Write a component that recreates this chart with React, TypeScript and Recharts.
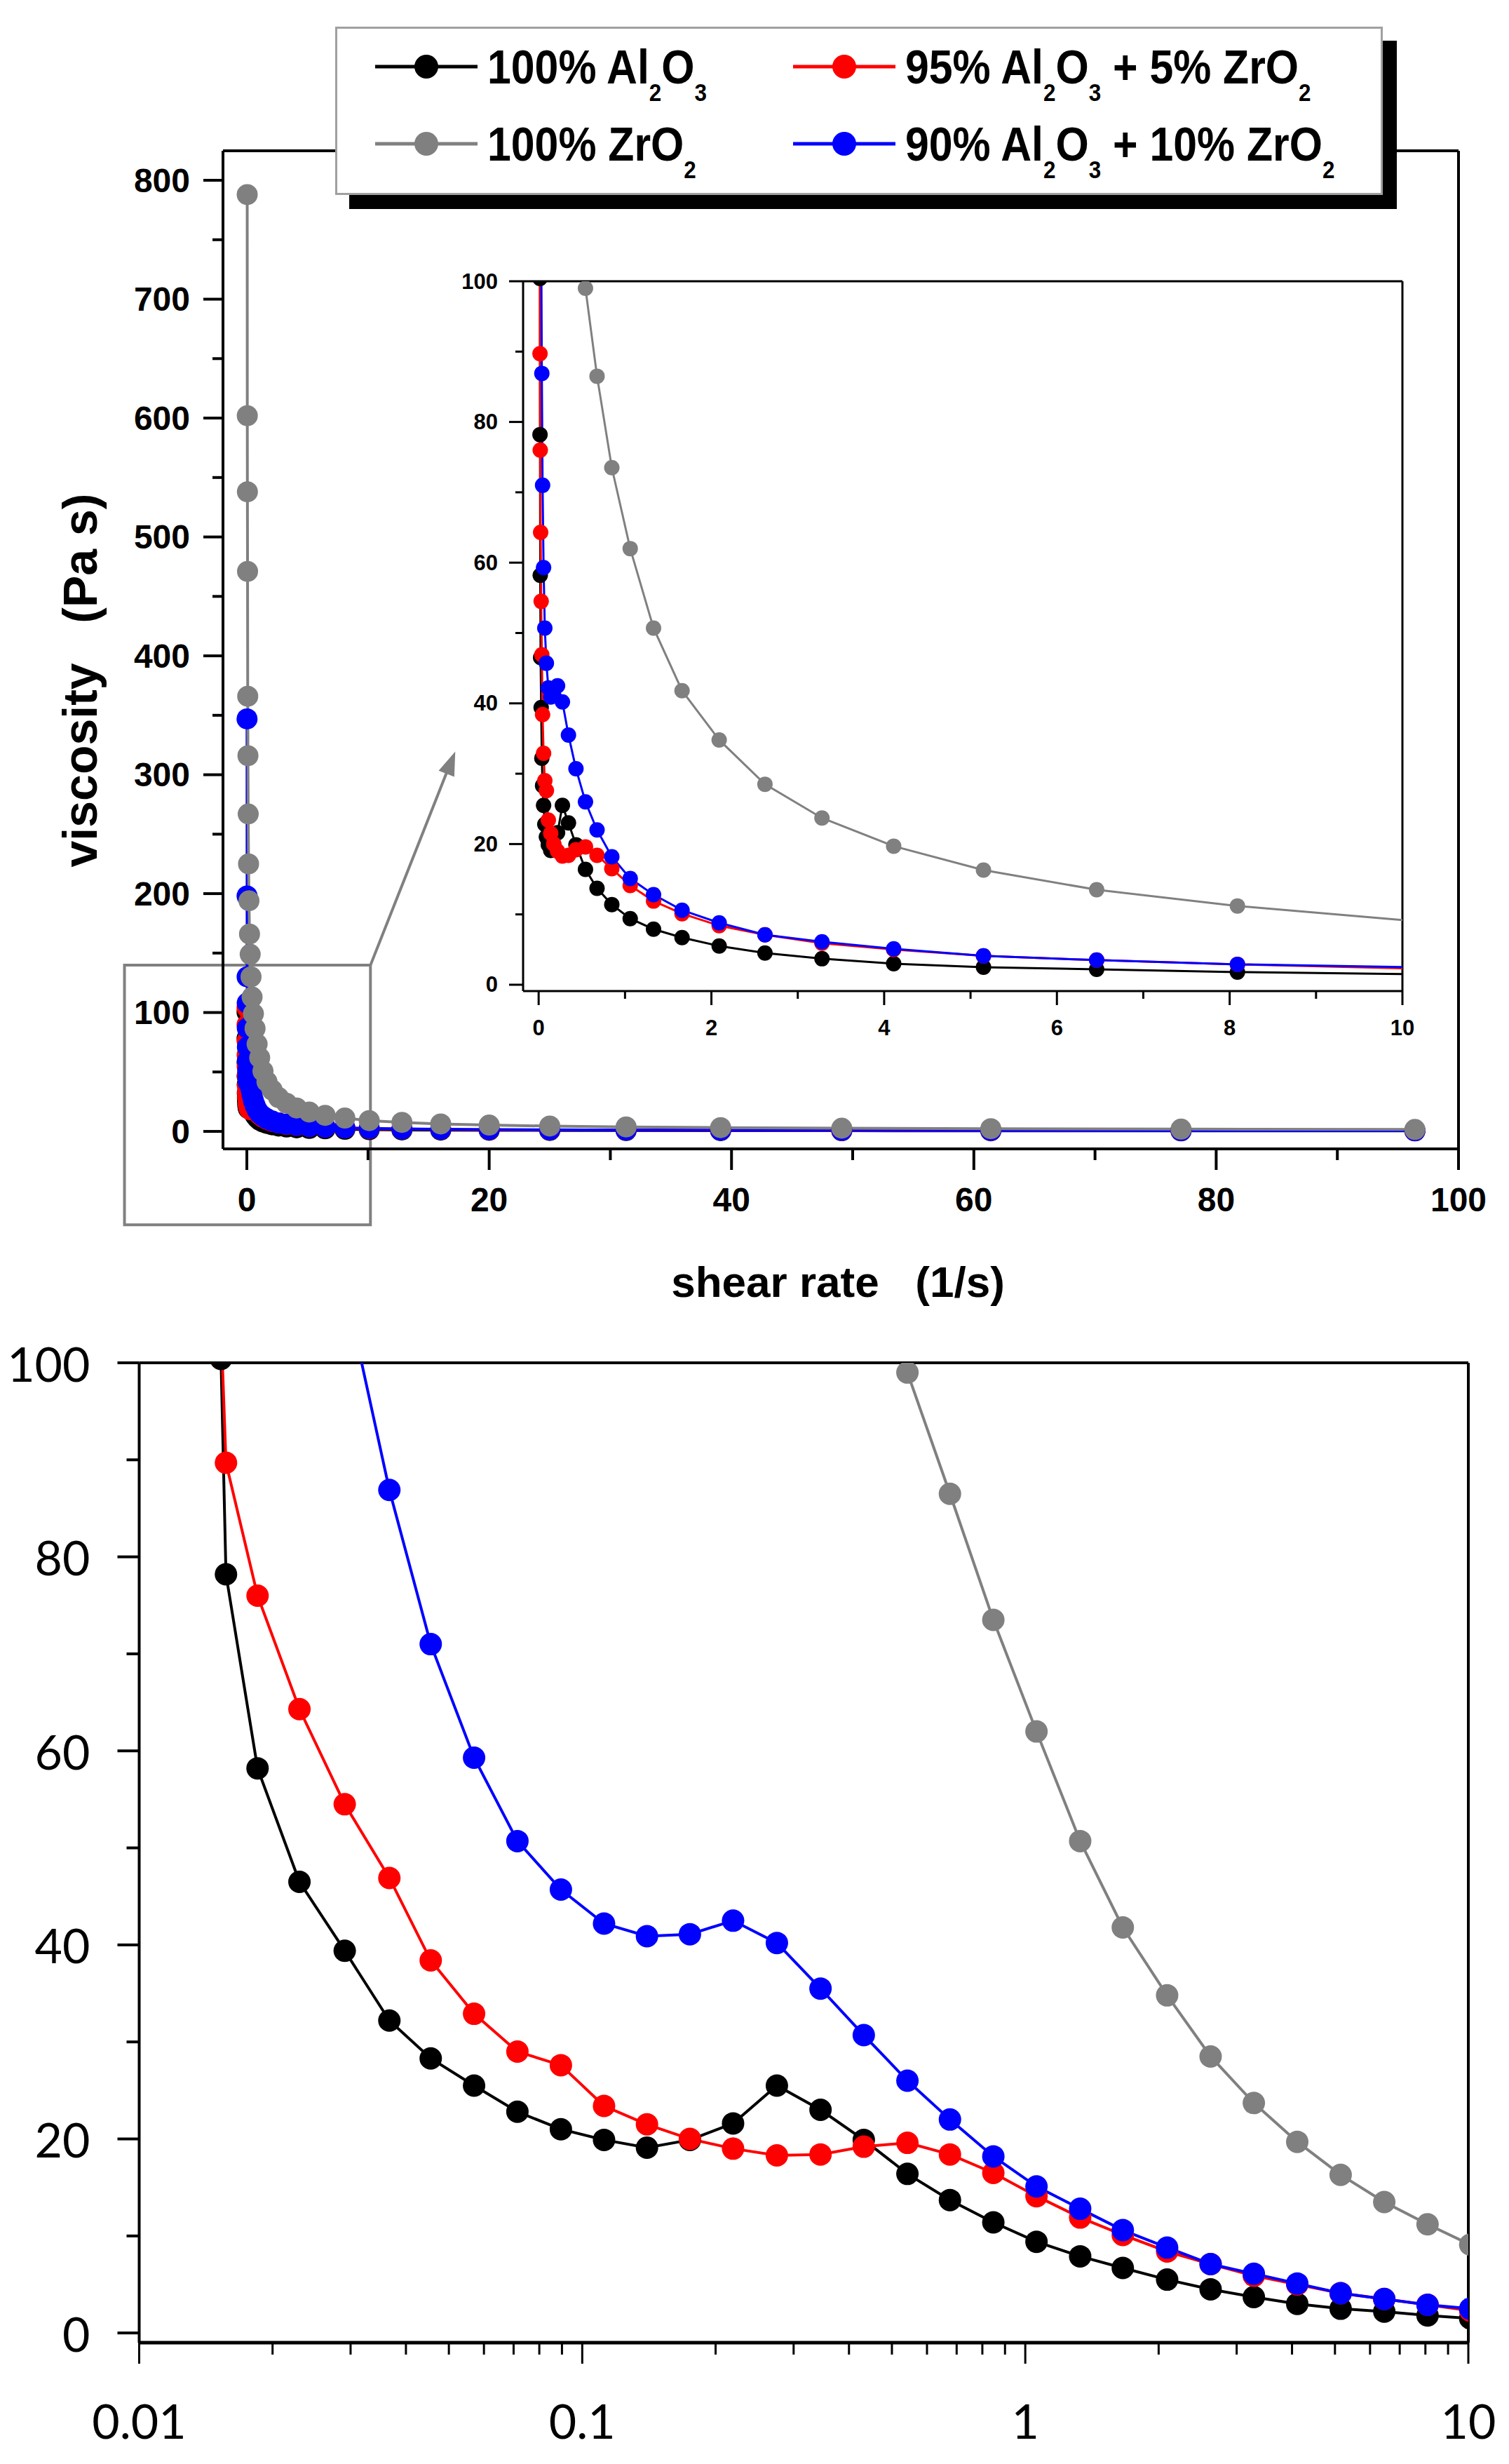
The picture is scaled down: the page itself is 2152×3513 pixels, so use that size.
import React from 'react';
import { LineChart, Line, XAxis, YAxis, ReferenceLine, ReferenceArea, ReferenceDot } from 'recharts';

// shear rate (1/s), same grid for all four slurries
const shearRate = [
  0.0153, 0.0157, 0.0185, 0.023, 0.0291, 0.0367, 0.0455, 0.057, 0.0714, 0.0895,
  0.112, 0.14, 0.175, 0.219, 0.275, 0.345, 0.432, 0.542, 0.676, 0.847,
  1.06, 1.33, 1.66, 2.09, 2.62, 3.28, 4.11, 5.15, 6.46, 8.09,
  10.1, 12.8, 16.0, 20.0, 25.0, 31.3, 39.1, 49.1, 61.4, 77.1, 96.4,
];

// viscosity (Pa s)
const al2o3 = [
  100.4, 78.2, 58.2, 46.5, 39.4, 32.2, 28.3, 25.5, 22.8, 21.0,
  19.9, 19.1, 19.9, 21.6, 25.5, 23.0, 19.9, 16.4, 13.7, 11.4,
  9.4, 7.9, 6.7, 5.5, 4.5, 3.7, 3.0, 2.5, 2.2, 1.8,
  1.5, 1.3, 1.1, 0.95, 0.85, 0.75, 0.65, 0.58, 0.52, 0.47, 0.42,
];
const al95zr5 = [
  104, 89.7, 76.0, 64.3, 54.5, 46.9, 38.4, 32.9, 29.0, 27.6,
  23.4, 21.5, 20.0, 19.0, 18.3, 18.4, 19.2, 19.6, 18.4, 16.5,
  14.1, 11.9, 10.1, 8.4, 7.1, 5.9, 5.0, 4.1, 3.5, 2.9,
  2.3, 2.0, 1.7, 1.45, 1.25, 1.1, 0.95, 0.85, 0.75, 0.68, 0.6,
];
const al90zr10 = [
  null, 347, 198, 130, 108, 86.9, 71.0, 59.3, 50.7, 45.7,
  42.2, 40.9, 41.1, 42.5, 40.2, 35.5, 30.7, 26.0, 22.0, 18.2,
  15.1, 12.8, 10.6, 8.8, 7.1, 6.1, 5.1, 4.1, 3.5, 2.9,
  2.5, 2.1, 1.8, 1.55, 1.35, 1.15, 1.0, 0.9, 0.8, 0.7, 0.62,
];
const zro2 = [
  null, null, null, null, 788, 602, 538, 471, 366, 316,
  267, 225, 194, 166, 149, 130, 113, 99, 86.5, 73.5,
  62, 50.7, 41.8, 34.8, 28.5, 23.7, 19.7, 16.3, 13.5, 11.2,
  9.1, 7.6, 6.3, 5.3, 4.5, 3.8, 3.2, 2.7, 2.3, 1.9, 1.6,
];

const series = [
  { key: 'al2o3', color: '#000000' },
  { key: 'al95zr5', color: '#ff0000' },
  { key: 'al90zr10', color: '#0000ff' },
  { key: 'zro2', color: '#808080' },
];

const rows = shearRate.map((x, i) => ({
  x,
  al2o3: al2o3[i],
  al95zr5: al95zr5[i],
  al90zr10: al90zr10[i],
  zro2: zro2[i],
}));

// ticks
const mainYTicks = [0, 50, 100, 150, 200, 250, 300, 350, 400, 450, 500, 550, 600, 650, 700, 750, 800];
const mainYMajor = [0, 100, 200, 300, 400, 500, 600, 700, 800];
const mainXTicks = [0, 10, 20, 30, 40, 50, 60, 70, 80, 90, 100];
const mainXMajor = [0, 20, 40, 60, 80, 100];
const insetYTicks = [0, 10, 20, 30, 40, 50, 60, 70, 80, 90, 100];
const insetYMajor = [0, 20, 40, 60, 80, 100];
const insetXTicks = [0, 1, 2, 3, 4, 5, 6, 7, 8, 9, 10];
const insetXMajor = [0, 2, 4, 6, 8, 10];
const logXTicks = [
  0.01, 0.02, 0.03, 0.04, 0.05, 0.06, 0.07, 0.08, 0.09,
  0.1, 0.2, 0.3, 0.4, 0.5, 0.6, 0.7, 0.8, 0.9,
  1, 2, 3, 4, 5, 6, 7, 8, 9, 10,
];
const logXMajor = [0.01, 0.1, 1, 10];
const logYTicks = [0, 10, 20, 30, 40, 50, 60, 70, 80, 90, 100];
const logYMajor = [0, 20, 40, 60, 80, 100];

const boldFont = { fontFamily: "'Liberation Sans', Arial, sans-serif", fontWeight: 700 };
const plainFont = { fontFamily: 'Lato, sans-serif', fontWeight: 400 };

function xTick(majors, majorLen, minorLen, sw, labelDy, fontSize, font) {
  return (p) => {
    const { x, y, payload } = p;
    const major = majors.includes(payload.value);
    return (
      <g>
        <line x1={x} x2={x} y1={y} y2={y + (major ? majorLen : minorLen)} stroke="#000" strokeWidth={sw} />
        {major && (
          <text x={x} y={y + labelDy} textAnchor="middle" dominantBaseline="central" fill="#000"
            fontSize={fontSize} fontFamily={font.fontFamily} fontWeight={font.fontWeight}>
            {String(payload.value)}
          </text>
        )}
      </g>
    );
  };
}

function yTick(majors, majorLen, minorLen, sw, labelDx, fontSize, font) {
  return (p) => {
    const { x, y, payload } = p;
    const major = majors.includes(payload.value);
    return (
      <g>
        <line x1={x - (major ? majorLen : minorLen)} x2={x} y1={y} y2={y} stroke="#000" strokeWidth={sw} />
        {major && (
          <text x={x - labelDx} y={y} textAnchor="end" dominantBaseline="central" fill="#000"
            fontSize={fontSize} fontFamily={font.fontFamily} fontWeight={font.fontWeight}>
            {String(payload.value)}
          </text>
        )}
      </g>
    );
  };
}

function renderLines(strokeWidth, r) {
  return series.map((s) => (
    <Line
      key={s.key}
      type="linear"
      dataKey={s.key}
      stroke={s.color}
      strokeWidth={strokeWidth}
      dot={{ r, fill: s.color, stroke: s.color, strokeWidth: 0 }}
      activeDot={false}
      isAnimationActive={false}
      connectNulls={false}
    />
  ));
}

const ArrowHead = (p) => {
  const { cx, cy } = p;
  const ux = 0.369, uy = -0.9295;
  const bx = cx - 34 * ux, by = cy - 34 * uy;
  const nx = 0.9295, ny = 0.369;
  const pts = `${cx},${cy} ${bx + 12 * nx},${by + 12 * ny} ${bx - 12 * nx},${by - 12 * ny}`;
  return <polygon points={pts} fill="#808080" />;
};

function MainChart() {
  const xDom = [-1.97, 100];
  const yDom = [-14.7, 824.8];
  return (
    <div style={{ position: 'absolute', left: 0, top: 0 }}>
      <LineChart width={2152} height={1780} data={rows} margin={{ left: 218, top: 215, right: 72, bottom: 42 }}>
        <XAxis type="number" dataKey="x" domain={xDom} allowDataOverflow ticks={mainXTicks} interval={0}
          height={100} tickSize={0} tickMargin={0} axisLine={{ stroke: '#000', strokeWidth: 4 }}
          tickLine={false} tick={xTick(mainXMajor, 30, 16, 4, 72, 48, boldFont)} />
        <YAxis type="number" domain={yDom} allowDataOverflow ticks={mainYTicks} interval={0}
          width={100} tickSize={0} tickMargin={0} axisLine={{ stroke: '#000', strokeWidth: 4 }}
          tickLine={false} tick={yTick(mainYMajor, 28, 15, 4, 47, 48, boldFont)} />
        <ReferenceLine y={yDom[1]} stroke="#000" strokeWidth={4} ifOverflow="visible" />
        <ReferenceLine x={xDom[1]} stroke="#000" strokeWidth={4} ifOverflow="visible" />
        {renderLines(4, 15)}
        <ReferenceArea x1={-10.1} x2={10.2} y1={-78.5} y2={139.8} fill="none" fillOpacity={0}
          stroke="#808080" strokeWidth={4} ifOverflow="visible" />
        <ReferenceLine segment={[{ x: 10.2, y: 139.8 }, { x: 17.0, y: 315 }]} stroke="#808080"
          strokeWidth={4} ifOverflow="visible" />
        <ReferenceDot x={17.2} y={319.5} r={1} ifOverflow="visible" shape={ArrowHead} />
      </LineChart>
    </div>
  );
}

function InsetChart() {
  const xDom = [-0.18, 10];
  const yDom = [-0.9, 100];
  return (
    <div style={{ position: 'absolute', left: 600, top: 300 }}>
      <LineChart width={1500} height={1250} data={rows} margin={{ left: 46, top: 101, right: 100, bottom: 37 }}>
        <XAxis type="number" dataKey="x" domain={xDom} allowDataOverflow ticks={insetXTicks} interval={0}
          height={100} tickSize={0} tickMargin={0} axisLine={{ stroke: '#000', strokeWidth: 3 }}
          tickLine={false} tick={xTick(insetXMajor, 20, 11, 3, 52, 31, boldFont)} />
        <YAxis type="number" domain={yDom} allowDataOverflow ticks={insetYTicks} interval={0}
          width={100} tickSize={0} tickMargin={0} axisLine={{ stroke: '#000', strokeWidth: 3 }}
          tickLine={false} tick={yTick(insetYMajor, 20, 11, 3, 36, 31, boldFont)} />
        <ReferenceLine y={yDom[1]} stroke="#000" strokeWidth={3} ifOverflow="visible" />
        <ReferenceLine x={xDom[1]} stroke="#000" strokeWidth={3} ifOverflow="visible" />
        {renderLines(3, 11)}
      </LineChart>
    </div>
  );
}

function LogChart() {
  const xDom = [0.01, 10];
  const yDom = [-1.0, 100];
  return (
    <div style={{ position: 'absolute', left: 0, top: 1880 }}>
      <LineChart width={2152} height={1633} data={rows} margin={{ left: 98.5, top: 63, right: 58, bottom: 73 }}>
        <XAxis type="number" dataKey="x" scale="log" domain={xDom} allowDataOverflow ticks={logXTicks} interval={0}
          height={100} tickSize={0} tickMargin={0} axisLine={{ stroke: '#000', strokeWidth: 5 }}
          tickLine={false} tick={xTick(logXMajor, 30, 17, 3, 110, 68, plainFont)} />
        <YAxis type="number" domain={yDom} allowDataOverflow ticks={logYTicks} interval={0}
          width={100} tickSize={0} tickMargin={0} axisLine={{ stroke: '#000', strokeWidth: 4 }}
          tickLine={false} tick={yTick(logYMajor, 31, 18, 4, 70, 68, plainFont)} />
        <ReferenceLine y={yDom[1]} stroke="#000" strokeWidth={4} ifOverflow="visible" />
        <ReferenceLine x={xDom[1]} stroke="#000" strokeWidth={4} ifOverflow="visible" />
        {renderLines(4, 16)}
      </LineChart>
    </div>
  );
}

const subStyle = { fontSize: 32, position: 'relative', top: 22, lineHeight: 0 };

function Formula({ parts }) {
  return (
    <>
      {parts.map((p, i) =>
        p.sub ? <span key={i} style={subStyle}>{p.t}</span> : <span key={i}>{p.t}</span>
      )}
    </>
  );
}

const legendItems = [
  { color: '#000000', left: 535, top: 95, parts: [{ t: '100% Al' }, { t: '2', sub: true }, { t: 'O' }, { t: '3', sub: true }] },
  { color: '#ff0000', left: 1131, top: 95, parts: [{ t: '95% Al' }, { t: '2', sub: true }, { t: 'O' }, { t: '3', sub: true }, { t: ' + 5% ZrO' }, { t: '2', sub: true }] },
  { color: '#808080', left: 535, top: 205, parts: [{ t: '100% ZrO' }, { t: '2', sub: true }] },
  { color: '#0000ff', left: 1131, top: 205, parts: [{ t: '90% Al' }, { t: '2', sub: true }, { t: 'O' }, { t: '3', sub: true }, { t: ' + 10% ZrO' }, { t: '2', sub: true }] },
];

function Legend() {
  return (
    <>
      <div style={{ position: 'absolute', left: 478, top: 38, width: 1494, height: 240, background: '#fff',
        border: '3px solid #a0a0a0', boxSizing: 'border-box', boxShadow: '20px 20px 0 #000' }} />
      {legendItems.map((it, i) => (
        <React.Fragment key={i}>
          <svg style={{ position: 'absolute', left: it.left, top: it.top - 20 }} width={146} height={40}>
            <line x1={0} x2={146} y1={20} y2={20} stroke={it.color} strokeWidth={5} />
            <circle cx={73} cy={20} r={17} fill={it.color} />
          </svg>
          <div style={{ position: 'absolute', left: it.left + 160, top: it.top - 28, fontSize: 62, lineHeight: '62px',
            whiteSpace: 'pre', color: '#000', transform: 'scale(0.98, 1.12)', transformOrigin: 'left 52px', ...boldFont }}>
            <Formula parts={it.parts} />
          </div>
        </React.Fragment>
      ))}
    </>
  );
}

export default function App() {
  return (
    <div style={{ position: 'absolute', left: 0, top: 0, width: 2152, height: 3513, background: '#fff', overflow: 'hidden' }}>
      <MainChart />
      <InsetChart />
      <Legend />
      <div style={{ position: 'absolute', left: 114, top: 970, transform: 'translate(-50%, -50%) rotate(-90deg)',
        fontSize: 68, whiteSpace: 'pre', color: '#000', ...boldFont }}>
        viscosity   (Pa s)
      </div>
      <div style={{ position: 'absolute', left: 1195, top: 1827, transform: 'translate(-50%, -50%)',
        fontSize: 62, whiteSpace: 'pre', color: '#000', ...boldFont }}>
        shear rate   (1/s)
      </div>
      <LogChart />
    </div>
  );
}
